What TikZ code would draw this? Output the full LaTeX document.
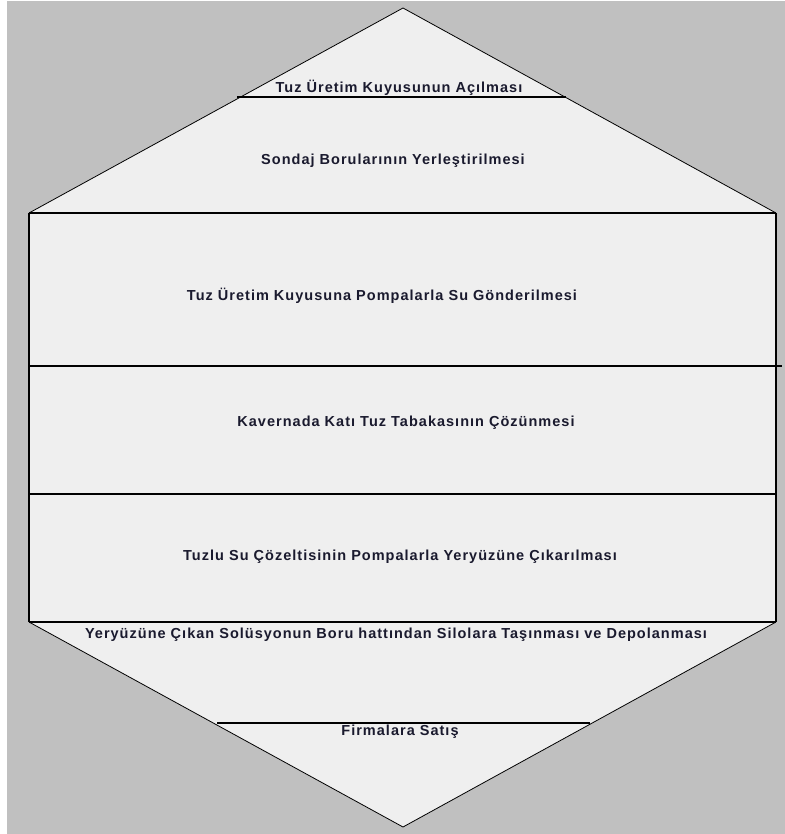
\documentclass[tikz,border=0pt]{standalone}
\usepackage{fontspec}
\setmainfont{Liberation Sans}
\newfontfamily\lblfont[LetterSpace=7]{Liberation Sans}
\definecolor{bggray}{HTML}{C0C0C0}
\definecolor{panel}{HTML}{EFEFEF}
\definecolor{txt}{HTML}{1A1A2E}
\begin{document}
\begin{tikzpicture}[x=1bp,y=-1bp,
  lbl/.style={inner sep=0pt,text=txt,font=\lblfont\bfseries\fontsize{14.5bp}{16bp}\selectfont},
  edge/.style={line width=0.8bp,black},
  sep/.style={line width=1.5bp,black}]
\useasboundingbox (0,0) rectangle (785,834);
\fill[white] (0,0) rectangle (785,834);
\fill[bggray] (7,1) rectangle (785,834);
% outer shape
\coordinate (top) at (403,8);
\coordinate (tr) at (776,213);
\coordinate (br) at (776,622);
\coordinate (bot) at (403,827);
\coordinate (bl) at (29,622);
\coordinate (tl) at (29,213);
\fill[panel] (top) -- (tr) -- (br) -- (bot) -- (bl) -- (tl) -- cycle;
\draw[edge] (tl) -- (top) -- (tr);
\draw[edge] (bl) -- (bot) -- (br);
\draw[sep] (tl) -- (bl);
\draw[sep] (tr) -- (br);
% separators
\coordinate (a1) at (237,97); \coordinate (a2) at (566,97);
\coordinate (c1) at (29,366); \coordinate (c2) at (782,366);
\coordinate (d1) at (29,494); \coordinate (d2) at (776,494);
\coordinate (f1) at (217,723); \coordinate (f2) at (590,723);
\draw[sep] (a1) -- (a2);
\draw[sep] (tl) -- (tr);
\draw[sep] (c1) -- (c2);
\draw[sep] (d1) -- (d2);
\draw[sep] (bl) -- (br);
\draw[sep] (f1) -- (f2);
% labels
\node[lbl] (t1) at (399,88) {Tuz Üretim Kuyusunun Açılması};
\node[lbl] (t2) at (393,161) {Sondaj Borularının Yerleştirilmesi};
\node[lbl] (t3) at (382,296) {Tuz Üretim Kuyusuna Pompalarla Su Gönderilmesi};
\node[lbl] (t4) at (406,423) {Kavernada Katı Tuz Tabakasının Çözünmesi};
\node[lbl] (t5) at (400,557) {Tuzlu Su Çözeltisinin Pompalarla Yeryüzüne Çıkarılması};
\node[lbl] (t6) at (396,635) {Yeryüzüne Çıkan Solüsyonun Boru hattından Silolara Taşınması ve Depolanması};
\node[lbl] (t7) at (400,732) {Firmalara Satış};
\end{tikzpicture}
\end{document}
